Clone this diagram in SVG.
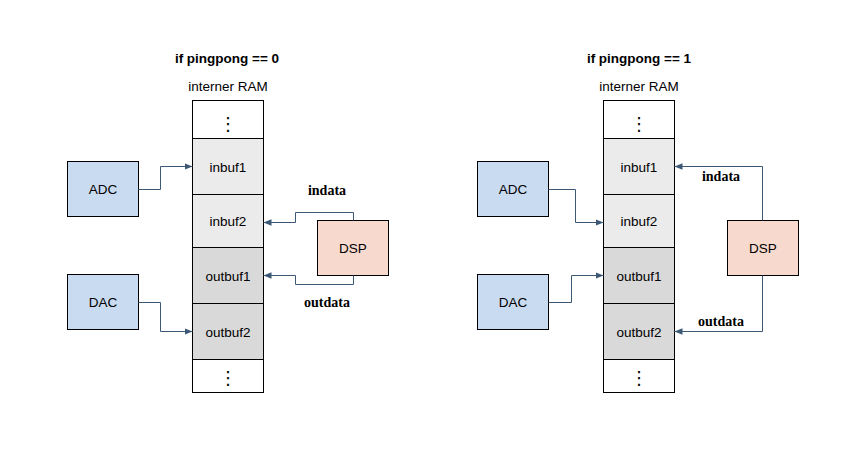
<svg xmlns="http://www.w3.org/2000/svg" width="862" height="452" viewBox="0 0 862 452">
<defs>
<marker id="arr" markerUnits="userSpaceOnUse" markerWidth="9" markerHeight="8" refX="8" refY="4" orient="auto">
<path d="M0,0.8 L8,4 L0,7.2 Z" fill="#3D5875"/>
</marker>
<style>
.bg{fill:#ffffff}
.cell{stroke:#000;stroke-width:1}
.blank{fill:#ffffff}
.in{fill:#EBEBEB}
.out{fill:#D9D9D9}
.io{fill:#C9DBF1;stroke:#000;stroke-width:1}
.dsp{fill:#F8D9CD;stroke:#000;stroke-width:1}
.t{font-family:"Liberation Sans",Arial,sans-serif;font-size:13.5px;fill:#000;text-anchor:middle}
.title{font-family:"Liberation Sans",Arial,sans-serif;font-size:13.5px;font-weight:bold;fill:#000;text-anchor:middle}
.lbl{font-family:"Liberation Serif","Times New Roman",serif;font-size:14px;font-weight:bold;fill:#000;text-anchor:middle}
.dots{font-family:"DejaVu Sans",sans-serif;font-size:18px;fill:#000;text-anchor:middle}
.c{fill:none;stroke:#3D5875;stroke-width:1;marker-end:url(#arr)}
</style>
</defs>
<rect class="bg" x="0" y="0" width="862" height="452"/>

<text class="title" x="227" y="63">if pingpong == 0</text>
<text class="title" x="639" y="63">if pingpong == 1</text>

<g id="ram-left">
<text class="t" x="228" y="91">interner RAM</text>
<rect class="cell blank" x="192.5" y="100.5" width="71" height="38"/>
<text class="dots" x="228" y="130">⋮</text>
<rect class="cell in" x="192.5" y="138.5" width="71" height="56"/>
<text class="t" x="228" y="172">inbuf1</text>
<rect class="cell in" x="192.5" y="194.5" width="71" height="53"/>
<text class="t" x="228" y="226">inbuf2</text>
<rect class="cell out" x="192.5" y="247.5" width="71" height="56"/>
<text class="t" x="228" y="280.5">outbuf1</text>
<rect class="cell out" x="192.5" y="303.5" width="71" height="56"/>
<text class="t" x="228" y="336.5">outbuf2</text>
<rect class="cell blank" x="192.5" y="359.5" width="71" height="33"/>
<text class="dots" x="228" y="384">⋮</text>
</g>

<g id="adc-left">
<rect class="io" x="67.5" y="161.5" width="71" height="55"/>
<text class="t" x="103" y="194">ADC</text>
</g>
<g id="dac-left">
<rect class="io" x="67.5" y="274.5" width="71" height="55"/>
<text class="t" x="103" y="307">DAC</text>
</g>
<g id="dsp-left">
<rect class="dsp" x="317.5" y="220.5" width="71" height="55"/>
<text class="t" x="353" y="253">DSP</text>
</g>

<g id="ram-right">
<text class="t" x="639" y="91">interner RAM</text>
<rect class="cell blank" x="603.5" y="100.5" width="71" height="38"/>
<text class="dots" x="639" y="130">⋮</text>
<rect class="cell in" x="603.5" y="138.5" width="71" height="56"/>
<text class="t" x="639" y="172">inbuf1</text>
<rect class="cell in" x="603.5" y="194.5" width="71" height="53"/>
<text class="t" x="639" y="226">inbuf2</text>
<rect class="cell out" x="603.5" y="247.5" width="71" height="56"/>
<text class="t" x="639" y="280.5">outbuf1</text>
<rect class="cell out" x="603.5" y="303.5" width="71" height="56"/>
<text class="t" x="639" y="336.5">outbuf2</text>
<rect class="cell blank" x="603.5" y="359.5" width="71" height="33"/>
<text class="dots" x="639" y="384">⋮</text>
</g>

<g id="adc-right">
<rect class="io" x="477.5" y="161.5" width="71" height="55"/>
<text class="t" x="513" y="194">ADC</text>
</g>
<g id="dac-right">
<rect class="io" x="477.5" y="274.5" width="71" height="55"/>
<text class="t" x="513" y="307">DAC</text>
</g>
<g id="dsp-right">
<rect class="dsp" x="727.5" y="220.5" width="71" height="55"/>
<text class="t" x="763" y="253">DSP</text>
</g>

<g id="connectors">
<path class="c" d="M138.5,189.5 H160.5 V166.5 H192.5"/>
<path class="c" d="M138.5,302.5 H160.5 V331.5 H192.5"/>
<path class="c" d="M353.5,220.5 V212.5 H295.5 V222.5 H263.5"/>
<path class="c" d="M353.5,275.5 V284.5 H295.5 V275.5 H263.5"/>
<text class="lbl" x="327" y="195">indata</text>
<text class="lbl" x="327" y="306.5">outdata</text>

<path class="c" d="M548.5,189.5 H575.5 V222.5 H603.5"/>
<path class="c" d="M548.5,302.5 H571.5 V275.5 H603.5"/>
<path class="c" d="M762.5,220.5 V166.5 H674.5"/>
<path class="c" d="M762.5,275.5 V331.5 H674.5"/>
<text class="lbl" x="721" y="181">indata</text>
<text class="lbl" x="721" y="325.5">outdata</text>
</g>
</svg>
